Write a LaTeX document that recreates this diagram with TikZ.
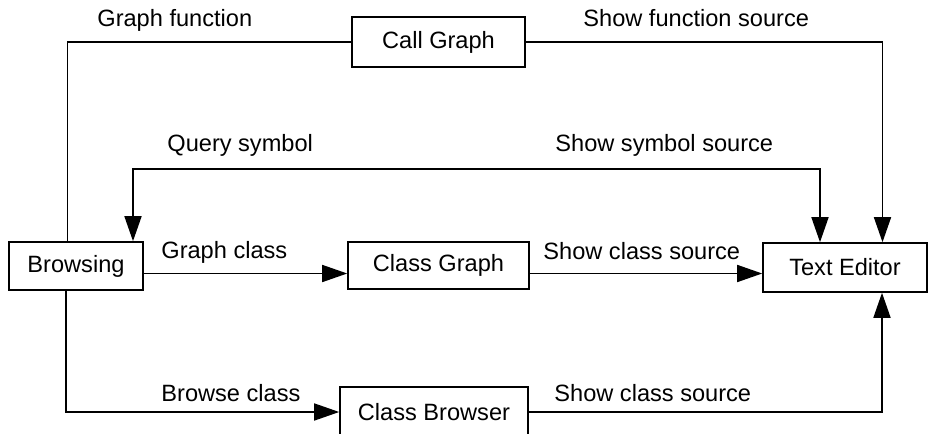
\documentclass[tikz,border=0pt]{standalone}
\usepackage{fontspec}
\setmainfont{Liberation Sans}
\usepackage{tikz}
\usetikzlibrary{arrows.meta}

\tikzset{
	box/.style={draw, line width=0.8pt, inner sep=0pt},
	flow/.style={line width=0.8pt},
	lbl/.style={anchor=base west, inner sep=0pt},
}

\begin{document}
\begin{tikzpicture}[x=0.5pt, y=-0.5pt, font=\fontsize{11.8}{14}\selectfont,
	>={Triangle[length=12.5pt,width=8.5pt]}]
	\useasboundingbox (0,0) rectangle (928,434);
	% boxes
	\node[box, minimum width=67pt, minimum height=24pt] (browsing) at (76,266) {Browsing};
	\node[box, minimum width=86.5pt, minimum height=25pt] (callgraph) at (438.5,42) {Call Graph};
	\node[box, minimum width=90.5pt, minimum height=23.5pt] (classgraph) at (438.5,265.5) {Class Graph};
	\node[box, minimum width=82pt, minimum height=24.5pt] (texteditor) at (845,267.5) {Text Editor};
	\node[box, minimum width=94pt, minimum height=25pt] (classbrowser) at (434,412) {Class Browser};
	% connectors
	\draw[flow] (callgraph.west) -| ([xshift=-4.25pt]browsing.north);
	\draw[flow,->] (callgraph.east) -| ([xshift=18.75pt]texteditor.north);
	\draw[flow,<->] ([xshift=28.5pt]browsing.north) -- ++(0,-72) -| ([xshift=-12.5pt]texteditor.north);
	\draw[flow,->] ([yshift=-3.75pt]browsing.east) -- ([yshift=-3.75pt]browsing.east -| classgraph.west);
	\draw[flow,->] ([yshift=-4pt]classgraph.east) -- ([yshift=-4pt]classgraph.east -| texteditor.west);
	\draw[flow,->] ([xshift=-5pt]browsing.south) |- (classbrowser.west);
	\draw[flow,->] (classbrowser.east) -| ([xshift=18.5pt]texteditor.south);
	% labels
	\node[lbl] (lgraphfn) at (97,26) {Graph function};
	\node[lbl] (lshowfn) at (583,26) {Show function source};
	\node[lbl] (lquery) at (167,151) {Query symbol};
	\node[lbl] (lshowsym) at (555,151) {Show symbol source};
	\node[lbl] (lgraphcl) at (161,258) {Graph class};
	\node[lbl] (lshowcl) at (543,259) {Show class source};
	\node[lbl] (lbrowsecl) at (161,401) {Browse class};
	\node[lbl] (lshowbr) at (554,401) {Show class source};
\end{tikzpicture}
\end{document}
